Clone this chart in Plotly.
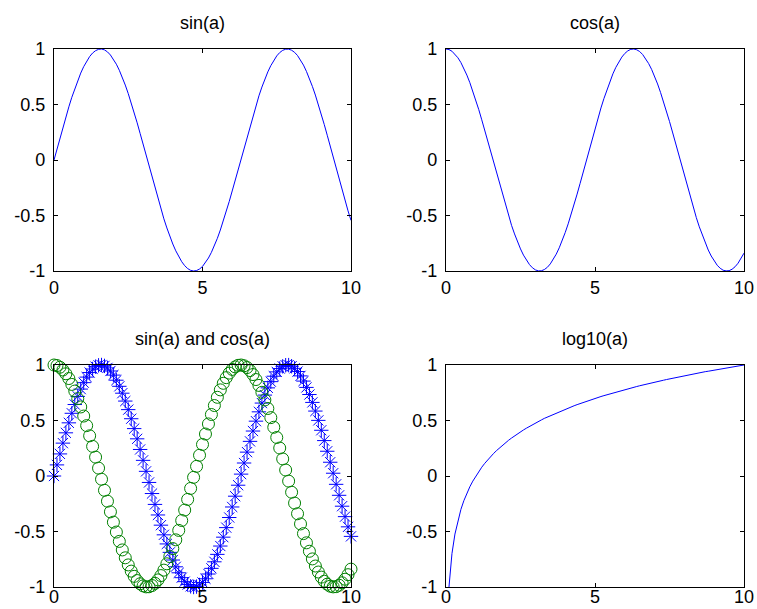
import plotly.graph_objects as go

a = [0.0, 0.1, 0.2, 0.3, 0.4, 0.5, 0.6, 0.7, 0.8, 0.9,
     1.0, 1.1, 1.2, 1.3, 1.4, 1.5, 1.6, 1.7, 1.8, 1.9,
     2.0, 2.1, 2.2, 2.3, 2.4, 2.5, 2.6, 2.7, 2.8, 2.9,
     3.0, 3.1, 3.2, 3.3, 3.4, 3.5, 3.6, 3.7, 3.8, 3.9,
     4.0, 4.1, 4.2, 4.3, 4.4, 4.5, 4.6, 4.7, 4.8, 4.9,
     5.0, 5.1, 5.2, 5.3, 5.4, 5.5, 5.6, 5.7, 5.8, 5.9,
     6.0, 6.1, 6.2, 6.3, 6.4, 6.5, 6.6, 6.7, 6.8, 6.9,
     7.0, 7.1, 7.2, 7.3, 7.4, 7.5, 7.6, 7.7, 7.8, 7.9,
     8.0, 8.1, 8.2, 8.3, 8.4, 8.5, 8.6, 8.7, 8.8, 8.9,
     9.0, 9.1, 9.2, 9.3, 9.4, 9.5, 9.6, 9.7, 9.8, 9.9,
     10.0]

sin_a = [0.000, 0.100, 0.199, 0.296, 0.389, 0.479, 0.565, 0.644, 0.717, 0.783,
         0.841, 0.891, 0.932, 0.964, 0.985, 0.997, 1.000, 0.992, 0.974, 0.946,
         0.909, 0.863, 0.808, 0.746, 0.675, 0.598, 0.516, 0.427, 0.335, 0.239,
         0.141, 0.042, -0.058, -0.158, -0.256, -0.351, -0.443, -0.530, -0.612, -0.688,
         -0.757, -0.818, -0.872, -0.916, -0.952, -0.978, -0.994, -1.000, -0.996, -0.982,
         -0.959, -0.926, -0.883, -0.832, -0.773, -0.706, -0.631, -0.551, -0.465, -0.374,
         -0.279, -0.182, -0.083, 0.017, 0.117, 0.215, 0.312, 0.405, 0.494, 0.578,
         0.657, 0.729, 0.794, 0.850, 0.899, 0.938, 0.968, 0.988, 0.998, 0.999,
         0.989, 0.970, 0.941, 0.902, 0.855, 0.798, 0.734, 0.663, 0.585, 0.501,
         0.412, 0.319, 0.223, 0.124, 0.025, -0.075, -0.174, -0.272, -0.366, -0.458,
         -0.544]

cos_a = [1.000, 0.995, 0.980, 0.955, 0.921, 0.878, 0.825, 0.765, 0.697, 0.622,
         0.540, 0.454, 0.362, 0.267, 0.170, 0.071, -0.029, -0.129, -0.227, -0.323,
         -0.416, -0.505, -0.589, -0.666, -0.737, -0.801, -0.857, -0.904, -0.942, -0.971,
         -0.990, -0.999, -0.998, -0.987, -0.967, -0.936, -0.897, -0.848, -0.791, -0.726,
         -0.654, -0.575, -0.490, -0.401, -0.307, -0.211, -0.112, -0.012, 0.087, 0.187,
         0.284, 0.378, 0.469, 0.554, 0.635, 0.709, 0.776, 0.835, 0.886, 0.927,
         0.960, 0.983, 0.997, 1.000, 0.993, 0.977, 0.950, 0.914, 0.869, 0.816,
         0.754, 0.685, 0.608, 0.526, 0.439, 0.347, 0.252, 0.154, 0.054, -0.046,
         -0.146, -0.244, -0.340, -0.432, -0.519, -0.602, -0.678, -0.747, -0.811, -0.865,
         -0.911, -0.948, -0.975, -0.993, -0.999, -0.997, -0.984, -0.962, -0.930, -0.889,
         -0.839]

log_x = a[1:]
log10_a = [-1.000, -0.699, -0.523, -0.398, -0.301, -0.222, -0.155, -0.097, -0.046, 0.000,
           0.041, 0.079, 0.114, 0.146, 0.176, 0.204, 0.230, 0.255, 0.279, 0.301,
           0.322, 0.342, 0.362, 0.380, 0.398, 0.415, 0.431, 0.447, 0.462, 0.477,
           0.491, 0.505, 0.519, 0.531, 0.544, 0.556, 0.568, 0.580, 0.591, 0.602,
           0.613, 0.623, 0.633, 0.643, 0.653, 0.663, 0.672, 0.681, 0.690, 0.699,
           0.708, 0.716, 0.724, 0.732, 0.740, 0.748, 0.756, 0.763, 0.771, 0.778,
           0.785, 0.792, 0.799, 0.806, 0.813, 0.820, 0.826, 0.833, 0.839, 0.845,
           0.851, 0.857, 0.863, 0.869, 0.875, 0.881, 0.886, 0.892, 0.898, 0.903,
           0.908, 0.914, 0.919, 0.924, 0.929, 0.934, 0.940, 0.944, 0.949, 0.954,
           0.959, 0.964, 0.968, 0.973, 0.978, 0.982, 0.987, 0.991, 0.996, 1.000]

titles = ["sin(a)", "cos(a)", "sin(a) and cos(a)", "log10(a)"]
x_ticks = [0, 5, 10]
y_ticks = [-1, -0.5, 0, 0.5, 1]
y_ticklabels = ["-1", "-0.5", "0", "0.5", "1"]

BLUE = "#0000FF"
GREEN = "#008000"
W, H = 757, 609

xdoms = [(54 / W, 351 / W), (446 / W, 744 / W)]
ydoms = [(1 - 271 / H, 1 - 49 / H), (1 - 587 / H, 1 - 365 / H)]

fig = go.Figure()

fig.add_trace(go.Scatter(x=a, y=sin_a, mode="lines", line=dict(color=BLUE, width=1),
                         xaxis="x", yaxis="y", showlegend=False, hoverinfo="skip"))
fig.add_trace(go.Scatter(x=a, y=cos_a, mode="lines", line=dict(color=BLUE, width=1),
                         xaxis="x2", yaxis="y2", showlegend=False, hoverinfo="skip"))
fig.add_trace(go.Scatter(x=a, y=sin_a, mode="markers",
                         marker=dict(symbol="asterisk-open", size=12, color=BLUE,
                                     line=dict(color=BLUE, width=1)),
                         cliponaxis=False, xaxis="x3", yaxis="y3", showlegend=False,
                         hoverinfo="skip"))
fig.add_trace(go.Scatter(x=a, y=cos_a, mode="markers",
                         marker=dict(symbol="circle-open", size=12, color=GREEN,
                                     line=dict(color=GREEN, width=1)),
                         cliponaxis=False, xaxis="x3", yaxis="y3", showlegend=False,
                         hoverinfo="skip"))
fig.add_trace(go.Scatter(x=log_x, y=log10_a, mode="lines", line=dict(color=BLUE, width=1),
                         xaxis="x4", yaxis="y4", showlegend=False, hoverinfo="skip"))

FONT = "Liberation Sans, Arial, sans-serif"
axis_font = dict(family=FONT, size=18, color="black")
layout = dict(template="none", width=W, height=H, autosize=False,
              margin=dict(l=0, r=0, t=0, b=0, pad=0),
              paper_bgcolor="white", plot_bgcolor="white", showlegend=False)

positions = [(0, 0), (1, 0), (0, 1), (1, 1)]
annotations = []
for i, (cx, ry) in enumerate(positions):
    sfx = "" if i == 0 else str(i + 1)
    common = dict(showline=True, linecolor="black", linewidth=1.2, mirror="ticks",
                  ticks="inside", ticklen=4, tickcolor="black", tickwidth=1,
                  showgrid=False, zeroline=False, tickfont=axis_font, fixedrange=True,
                  automargin=False)
    layout["xaxis" + sfx] = dict(domain=list(xdoms[cx]), range=[0, 10], tickvals=x_ticks,
                                 ticktext=[str(t) for t in x_ticks], anchor="y" + sfx,
                                 ticklabelstandoff=(0 if ry == 0 else -7), **common)
    layout["yaxis" + sfx] = dict(domain=list(ydoms[ry]), range=[-1, 1], tickvals=y_ticks,
                                 ticktext=y_ticklabels, anchor="x" + sfx,
                                 ticklabelstandoff=4, **common)
    annotations.append(dict(text=titles[i], x=sum(xdoms[cx]) / 2, y=ydoms[ry][1],
                            xref="paper", yref="paper", xanchor="center", yanchor="middle",
                            yshift=26, showarrow=False,
                            font=dict(family=FONT, size=18, color="black")))
layout["annotations"] = annotations
fig.update_layout(**layout)

fig.write_html("out.html", config={"displayModeBar": False, "staticPlot": True},
               post_script="document.body.style.margin='0px';"
                           "document.body.style.overflow='hidden';")
